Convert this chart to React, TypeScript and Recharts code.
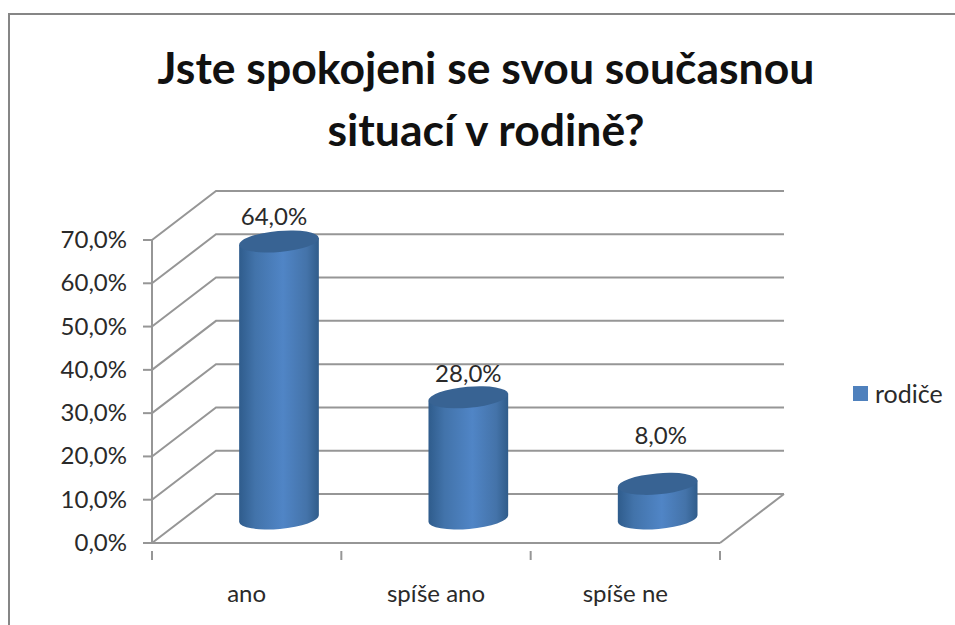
import { BarChart, Bar, XAxis, YAxis, CartesianGrid, Legend, LabelList } from 'recharts'

const titleLines = ['Jste spokojeni se svou současnou', 'situací v rodině?']
const categories = ['ano', 'spíše ano', 'spíše ne']
const seriesName = 'rodiče'
const values = [64, 28, 8]
const yTicks = [0, 10, 20, 30, 40, 50, 60, 70]

const data = categories.map((kategorie, i) => ({ kategorie, hodnota: values[i] }))

// 3D look: how far the back wall sits from the front plane
const DEPTH_X = 64
const DEPTH_Y = 49
const PLOT_LEFT = 152
const PLOT_RIGHT = 720
const BAND = (PLOT_RIGHT - PLOT_LEFT) / categories.length
const RX = 40
const RY = 10.5
const TILT = -5
const LINE = '#969696'
const FONT = 'Lato, sans-serif'
const TEXT = '#2a2a2a'

const fmtPct = (v: number) => `${v.toFixed(1).replace('.', ',')}%`

const wallLine = (props: any) => {
  const { x1, x2, y1, index } = props
  const d = `M${x1} ${y1}L${x1 + DEPTH_X} ${y1 - DEPTH_Y}L${x2 + DEPTH_X} ${y1 - DEPTH_Y}`
  const isFloor = Math.abs(y1 - 543) < 1
  return (
    <g key={index}>
      <path d={d} fill="none" stroke={LINE} strokeWidth={2} />
      {isFloor && <path d={`M${x2} ${y1}L${x2 + DEPTH_X} ${y1 - DEPTH_Y}`} stroke={LINE} strokeWidth={2} />}
    </g>
  )
}

const Cylinder = (props: any) => {
  const { x, y, width, height } = props
  const cx = x + width / 2 + DEPTH_X / 2
  const top = y - DEPTH_Y / 2
  const bottom = y + height - DEPTH_Y / 2
  const ox = RX * Math.cos((TILT * Math.PI) / 180)
  const oy = RX * Math.sin((TILT * Math.PI) / 180)
  const body = `M${cx - ox} ${top - oy}L${cx - ox} ${bottom - oy}A${RX} ${RY} ${TILT} 0 0 ${cx + ox} ${bottom + oy}L${cx + ox} ${top + oy}Z`
  return (
    <g>
      <path d={body} fill="url(#valec)" />
      <ellipse cx={cx} cy={top} rx={RX} ry={RY} fill="#386393" transform={`rotate(${TILT} ${cx} ${top})`} />
    </g>
  )
}

const YTick = (props: any) => {
  const { y, payload } = props
  return (
    <g>
      <line x1={PLOT_LEFT - 9} x2={PLOT_LEFT} y1={y} y2={y} stroke={LINE} strokeWidth={2} />
      <text x={PLOT_LEFT - 25} y={y + 8} textAnchor="end" fontSize={24} fontFamily={FONT} fill={TEXT}>
        {fmtPct(payload.value)}
      </text>
    </g>
  )
}

const XTick = (props: any) => {
  const { x, y, payload, index } = props
  const last = index === categories.length - 1
  return (
    <g>
      <line x1={x - BAND / 2} x2={x - BAND / 2} y1={y} y2={y + 9} stroke={LINE} strokeWidth={2} />
      {last && <line x1={x + BAND / 2} x2={x + BAND / 2} y1={y} y2={y + 9} stroke={LINE} strokeWidth={2} />}
      <text x={x} y={y + 51} textAnchor="middle" fontSize={24} fontFamily={FONT} fill={TEXT}>
        {payload.value}
      </text>
    </g>
  )
}

// hand placed in the original, so each label has its own nudge
const labelNudge = [
  { dx: -5, dy: -16 },
  { dx: 0, dy: -15 },
  { dx: 3, dy: -40 },
]

const ValueLabel = (props: any) => {
  const { x, y, width, value, index } = props
  const nudge = labelNudge[index]
  return (
    <text
      x={x + width / 2 + DEPTH_X / 2 + nudge.dx}
      y={y - DEPTH_Y / 2 + nudge.dy}
      textAnchor="middle"
      fontSize={24}
      fontFamily={FONT}
      fill={TEXT}
    >
      {fmtPct(value)}
    </text>
  )
}

const LegendBox = () => (
  <div style={{ display: 'flex', alignItems: 'center', fontFamily: FONT, fontSize: 25, color: TEXT }}>
    <span style={{ width: 15, height: 15, background: '#4f81bd', marginRight: 7 }} />
    {seriesName}
  </div>
)

export default function App() {
  return (
    <div style={{ position: 'absolute', left: 0, top: 0, width: 955, height: 625, background: '#fff', overflow: 'hidden' }}>
      <div
        style={{
          position: 'absolute',
          left: 8,
          top: 13,
          width: 960,
          height: 640,
          borderLeft: '2px solid #868686',
          borderTop: '2px solid #868686',
        }}
      />
      <BarChart
        width={955}
        height={625}
        data={data}
        margin={{ top: 240, right: 235, bottom: 42, left: 52 }}
        style={{ position: 'absolute', left: 0, top: 0 }}
      >
        <defs>
          <linearGradient id="valec" x1="0" y1="0" x2="1" y2="0">
            <stop offset="0" stopColor="#2f5c8c" />
            <stop offset="0.2" stopColor="#4273aa" />
            <stop offset="0.55" stopColor="#5085c6" />
            <stop offset="0.85" stopColor="#4473a9" />
            <stop offset="1" stopColor="#305c8a" />
          </linearGradient>
        </defs>
        <text x={486} y={84} textAnchor="middle" fontSize={44.5} fontWeight={700} fontFamily={FONT} fill="#111">
          {titleLines[0]}
        </text>
        <text x={486} y={146} textAnchor="middle" fontSize={44.5} fontWeight={700} fontFamily={FONT} fill="#111">
          {titleLines[1]}
        </text>
        <CartesianGrid vertical={false} horizontal={wallLine} />
        <XAxis
          dataKey="kategorie"
          height={40}
          interval={0}
          axisLine={{ stroke: LINE, strokeWidth: 2 }}
          tickLine={false}
          tick={<XTick />}
        />
        <YAxis
          width={100}
          domain={[0, 70]}
          ticks={yTicks}
          interval={0}
          axisLine={{ stroke: LINE, strokeWidth: 2 }}
          tickLine={false}
          tick={<YTick />}
        />
        <Legend
          layout="horizontal"
          verticalAlign="middle"
          align="center"
          content={<LegendBox />}
          wrapperStyle={{ position: 'absolute', left: 853, top: 378, width: 100 }}
        />
        <Bar dataKey="hodnota" name={seriesName} fill="#4f81bd" barSize={80} shape={<Cylinder />} isAnimationActive={false}>
          <LabelList dataKey="hodnota" content={<ValueLabel />} />
        </Bar>
      </BarChart>
    </div>
  )
}
